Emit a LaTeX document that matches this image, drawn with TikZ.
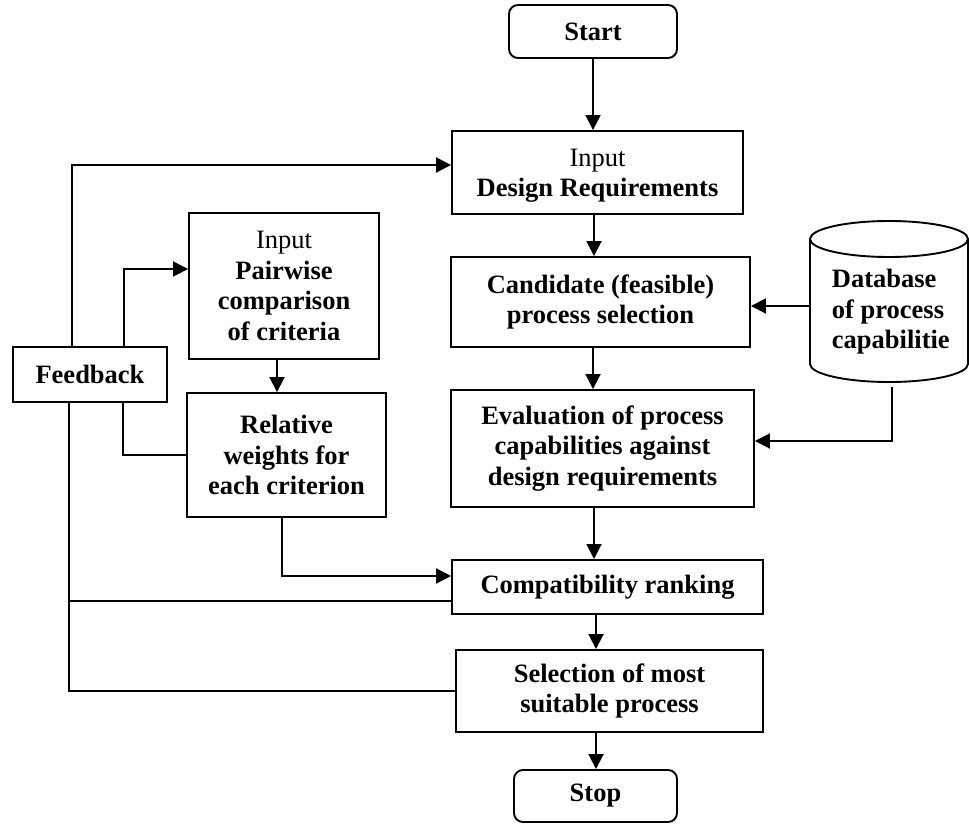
\documentclass[tikz,border=0pt]{standalone}
\usepackage{fontspec}
\setmainfont{Liberation Serif}
\usetikzlibrary{arrows.meta}
\begin{document}
\begin{tikzpicture}[x=1pt,y=-1pt,
  font=\fontsize{26.5}{30.5}\selectfont\bfseries,
  every path/.style={line width=1.9pt},
  box/.style={draw, rectangle, align=center, inner sep=0pt, line width=1.9pt},
  term/.style={box, rounded corners=9pt},
  arr/.style={-{Triangle[length=15pt,width=15pt]}},
  link/.style={line width=1.9pt}]
\useasboundingbox (0,0) rectangle (969,824);

% main column
\node[term, minimum width=168pt, minimum height=53pt] (start) at (593,31.5) {Start};
\node[box, minimum width=291pt, minimum height=83pt] (dr) at (597.5,172.5)
  {\rule{0pt}{24pt}\mdseries Input\\Design Requirements};
\node[box, minimum width=299pt, minimum height=90pt] (cand) at (600.5,302)
  {Candidate (feasible)\\process selection};
\node[box, minimum width=303pt, minimum height=117pt] (eval) at (602.5,448.5)
  {Evaluation of process\\capabilities against\\design requirements};
\node[box, minimum width=311pt, minimum height=54pt] (comp) at (607.5,587)
  {Compatibility ranking};
\node[box, minimum width=307pt, minimum height=82pt] (sel) at (609.5,691)
  {Selection of most\\suitable process};
\node[term, minimum width=163pt, minimum height=52pt] (stop) at (595.5,796) {Stop};

% left column
\node[box, minimum width=154pt, minimum height=55pt] (fb) at (90,374.5) {Feedback};
\node[box, minimum width=190pt, minimum height=146pt] (pair) at (284,286)
  {{\mdseries Input}\\Pairwise\\comparison\\of criteria};
\node[box, minimum width=199pt, minimum height=124pt] (rel) at (286.5,455)
  {Relative\\weights for\\each criterion};

% database of process capabilities
\node[minimum width=158pt, minimum height=162pt, inner sep=0pt] (db) at (889,301) {};
\draw (810,239) -- (810,364)
  arc[start angle=180, end angle=360, x radius=79pt, y radius=18pt] -- (968,239);
\draw (889,239) ellipse[x radius=79pt, y radius=18pt];
\node[align=left, anchor=west, inner sep=0pt] (dbt) at (831,312)
  {Database\\of process\\capabilitie};

% main flow
\draw[arr] (start.south) -- (start.south |- dr.north);
\coordinate (c1) at ([xshift=-3.5pt]dr.south);
\draw[arr] (c1) -- (c1 |- cand.north);
\coordinate (c2) at ([xshift=-7.5pt]cand.south);
\draw[arr] (c2) -- (c2 |- eval.north);
\coordinate (c3) at ([xshift=-8.5pt]eval.south);
\draw[arr] (c3) -- (c3 |- comp.north);
\coordinate (c4) at ([xshift=-11.5pt]comp.south);
\draw[arr] (c4) -- (c4 |- sel.north);
\coordinate (c5) at ([xshift=-13.5pt]sel.south);
\draw[arr] (c5) -- (c5 |- stop.north);

% database links
\draw[arr] ([yshift=-5pt]db.west) -- ([yshift=-4pt]cand.east);
\draw[arr] ([xshift=3pt,yshift=-4pt]db.south) |- ([yshift=7.5pt]eval.east);

% criteria weighting
\coordinate (c6) at ([xshift=-7pt]pair.south);
\draw[arr] (c6) -- (c6 |- rel.north);
\draw[arr] ([xshift=-4.5pt]rel.south) |- ([yshift=11pt]comp.west);

% feedback loops
\draw[arr] ([xshift=-18pt]fb.north) |- ([yshift=7.5pt]dr.west);
\draw[arr] ([xshift=34pt]fb.north) |- ([yshift=17pt]pair.west);
\draw[link] ([xshift=33pt]fb.south) |- (rel.west);
\draw[link] ([xshift=-21pt]fb.south) |- (sel.west);
\draw[link] ([yshift=-14pt]comp.west) -| ([xshift=-21pt]fb.south);
\end{tikzpicture}
\end{document}
